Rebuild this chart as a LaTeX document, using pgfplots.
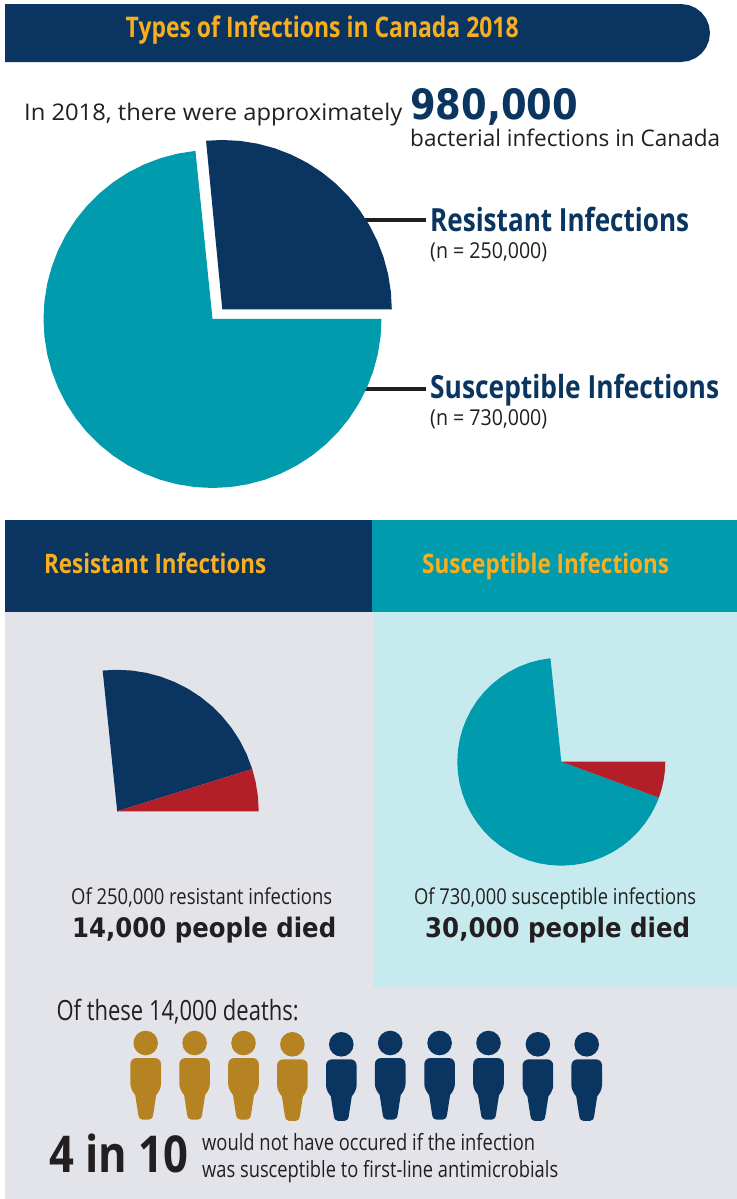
\documentclass[border=0pt]{standalone}
\usepackage{fontspec}
\usepackage{graphicx}
\usepackage{pgfplots}
\pgfplotsset{compat=1.18}
\setmainfont{Open Sans}
\newfontfamily\heavy{DejaVu Sans}

\definecolor{navy}{HTML}{0A3560}
\definecolor{teal2}{HTML}{009BAC}
\definecolor{red2}{HTML}{B31F29}
\definecolor{gold}{HTML}{B68323}
\definecolor{orange2}{HTML}{F9AE1F}
\definecolor{greybg}{HTML}{E3E4EA}
\definecolor{cyanbg}{HTML}{C7EAEE}
\definecolor{ink}{HTML}{231F20}

% x, baseline y, width, font size, colour, text
\newcommand{\lbl}[6]{\node[anchor=base west,inner sep=0pt,text=#5] at (axis cs:#1,#2)
  {\resizebox{#3bp}{\height}{\fontsize{#4}{#4}\selectfont #6}};}

\def\pp#1#2{\pgfpoint{#1bp}{#2bp}}
\pgfdeclareplotmark{person}{%
  \pgfpathcircle{\pp{0}{0}}{12.3bp}%
  \pgfpathmoveto{\pp{-9}{-15}}%
  \pgfpathlineto{\pp{9}{-15}}%
  \pgfpathcurveto{\pp{12.5}{-15}}{\pp{15.3}{-17.5}}{\pp{15.3}{-21}}%
  \pgfpathlineto{\pp{15.3}{-41}}%
  \pgfpathcurveto{\pp{15.3}{-45}}{\pp{13}{-49}}{\pp{10.5}{-52}}%
  \pgfpathlineto{\pp{7.5}{-71.5}}%
  \pgfpathcurveto{\pp{7}{-75}}{\pp{5.5}{-76.5}}{\pp{3.5}{-76.5}}%
  \pgfpathlineto{\pp{-3.5}{-76.5}}%
  \pgfpathcurveto{\pp{-5.5}{-76.5}}{\pp{-7}{-75}}{\pp{-7.5}{-71.5}}%
  \pgfpathlineto{\pp{-10.5}{-52}}%
  \pgfpathcurveto{\pp{-13}{-49}}{\pp{-15.3}{-45}}{\pp{-15.3}{-41}}%
  \pgfpathlineto{\pp{-15.3}{-21}}%
  \pgfpathcurveto{\pp{-15.3}{-17.5}}{\pp{-12.5}{-15}}{\pp{-9}{-15}}%
  \pgfpathclose
  \pgfusepathqfill
}

\pgfplotsset{
  pie/.style={hide axis,x=1bp,y=1bp,anchor=origin,clip=false},
  wedge/.style={draw=none,fill=#1,data cs=polar},
  block/.style={draw=none,fill=#1},
}

\begin{document}
\begin{tikzpicture}
% page, panels, header, text and people, in image pixels
\begin{axis}[hide axis,x=1bp,y=1bp,at={(0,0)},anchor=south west,
    xmin=0,xmax=737,ymin=0,ymax=1199,y dir=reverse]
\addplot[block=white] coordinates {(0,0) (737,0) (737,1199) (0,1199)};
\addplot[block=navy] coordinates {(5,4) (681,4) (688.5,5) (695.5,7.9) (701.5,12.5)
  (706.1,18.5) (709,25.5) (710,33) (709,40.5) (706.1,47.5) (701.5,53.5) (695.5,58.1)
  (688.5,61) (681,62) (5,62)};
\addplot[block=navy] coordinates {(5,520) (372,520) (372,612) (5,612)};
\addplot[block=teal2] coordinates {(372,520) (737,520) (737,612) (372,612)};
\addplot[block=greybg] coordinates {(5,612) (737,612) (737,1199) (5,1199)};
\addplot[block=cyanbg] coordinates {(373,612) (737,612) (737,988) (373,988)};
\addplot[ink,line width=4bp] coordinates {(360,219.5) (426,219.5)};
\addplot[ink,line width=4bp] coordinates {(360,389.3) (426,389.3)};
\addplot[only marks,mark=person,color=gold] coordinates {
  (145.7,1043) (194.6,1043) (243.5,1043) (292.4,1044.3)};
\addplot[only marks,mark=person,color=navy] coordinates {
  (341.3,1044.3) (390.2,1043) (439.6,1043) (488.5,1043) (537.9,1044.3) (586.7,1044.3)};

\lbl{125.5}{37.3}{393}{28.5}{orange2}{\bfseries Types of Infections in Canada 2018}
\lbl{24}{120}{378}{23}{ink}{In 2018, there were approximately}
\lbl{410}{119.5}{168}{42}{navy}{\heavy\bfseries 980,000}
\lbl{410}{146.7}{310}{23}{ink}{bacterial infections in Canada}
\lbl{430}{231.7}{259}{32}{navy}{\bfseries Resistant Infections}
\lbl{430}{258.3}{117}{22}{ink}{(n = 250,000)}
\lbl{430}{398.3}{289}{32}{navy}{\bfseries Susceptible Infections}
\lbl{430}{425}{117}{22}{ink}{(n = 730,000)}
\lbl{44}{573}{222}{27}{orange2}{\bfseries Resistant Infections}
\lbl{422}{573}{247}{27}{orange2}{\bfseries Susceptible Infections}
\lbl{71}{904}{261}{22}{ink}{Of 250,000 resistant infections}
\lbl{72}{937}{264}{27}{ink}{\heavy\bfseries 14,000 people died}
\lbl{414}{904}{282}{22}{ink}{Of 730,000 susceptible infections}
\lbl{425}{937}{265}{27}{ink}{\heavy\bfseries 30,000 people died}
\lbl{56.4}{1020}{242}{28}{ink}{Of these 14,000 deaths:}
\lbl{49}{1172.7}{139}{51}{ink}{\bfseries 4 in 10}
\lbl{202}{1150.7}{333}{22.5}{ink}{would not have occured if the infection}
\lbl{202}{1177.7}{356}{22.5}{ink}{was susceptible to first-line antimicrobials}
\end{axis}

% top pie: susceptible share, angle and radius round its own centre
\begin{axis}[pie,at={(212.5bp,880bp)},xmin=-180,xmax=180,ymin=-180,ymax=180]
\addplot[wedge=teal2] coordinates {(0,0) (95.8,169)
  (102,169) (108,169) (114,169) (120,169) (126,169) (132,169) (138,169) (144,169)
  (150,169) (156,169) (162,169) (168,169) (174,169) (180,169) (186,169) (192,169)
  (198,169) (204,169) (210,169) (216,169) (222,169) (228,169) (234,169) (240,169)
  (246,169) (252,169) (258,169) (264,169) (270,169) (276,169) (282,169) (288,169)
  (294,169) (300,169) (306,169) (312,169) (318,169) (324,169) (330,169) (336,169)
  (342,169) (348,169) (354,169) (360,169)};
\end{axis}
% top pie: resistant share
\begin{axis}[pie,at={(222.3bp,889.5bp)},xmin=-180,xmax=180,ymin=-180,ymax=180]
\addplot[wedge=navy] coordinates {(0,0) (0,169.5) (6,169.5) (12,169.5) (18,169.5) (24,169.5)
  (30,169.5) (36,169.5) (42,169.5) (48,169.5) (54,169.5) (60,169.5) (66,169.5) (72,169.5)
  (78,169.5) (84,169.5) (90,169.5) (95.5,169.5)};
\end{axis}

% resistant pie with its deaths
\begin{axis}[pie,at={(117.2bp,387.7bp)},xmin=-150,xmax=150,ymin=-150,ymax=150]
\addplot[wedge=navy] coordinates {(0,0) (17.4,141.5) (24,141.5) (30,141.5) (36,141.5) (42,141.5)
  (48,141.5) (54,141.5) (60,141.5) (66,141.5) (72,141.5) (78,141.5) (84,141.5) (90,141.5)
  (95.9,141.5)};
\addplot[wedge=red2] coordinates {(0,0) (0,141.5) (6,141.5) (12,141.5) (17.4,141.5)};
\end{axis}

% susceptible pie with its deaths
\begin{axis}[pie,at={(561.3bp,437.3bp)},xmin=-110,xmax=110,ymin=-110,ymax=110]
\addplot[wedge=teal2] coordinates {(0,0) (96,104) (102,104) (108,104) (114,104) (120,104)
  (126,104) (132,104) (138,104) (144,104) (150,104) (156,104) (162,104) (168,104)
  (174,104) (180,104) (186,104) (192,104) (198,104) (204,104) (210,104) (216,104)
  (222,104) (228,104) (234,104) (240,104) (246,104) (252,104) (258,104) (264,104)
  (270,104) (276,104) (282,104) (288,104) (294,104) (300,104) (306,104) (312,104)
  (318,104) (324,104) (330,104) (336,104) (339.8,104)};
\addplot[wedge=red2] coordinates {(0,0) (339.8,104) (345,104) (350,104) (355,104) (360,104)};
\end{axis}
\end{tikzpicture}
\end{document}
